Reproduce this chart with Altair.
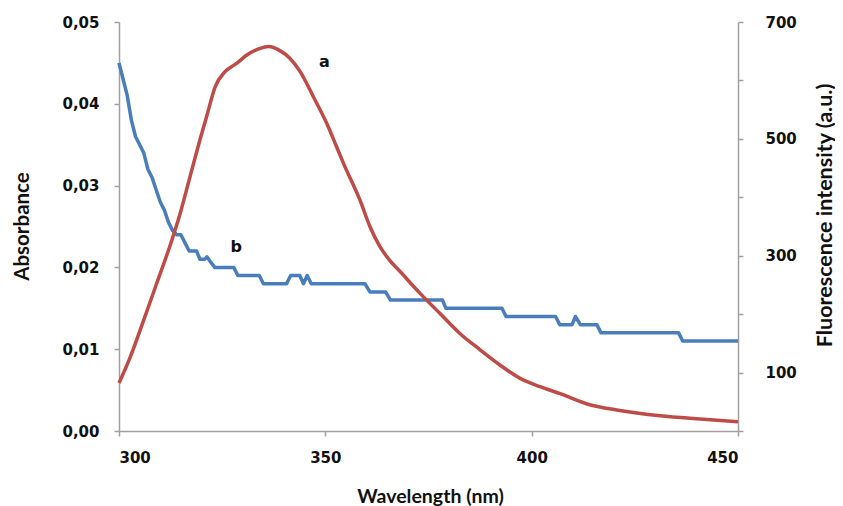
import altair as alt
import pandas as pd

# ---- data ----
blue_wl = [300, 301, 302, 303, 304, 305, 306, 307, 308, 309, 310, 311, 312, 313, 314, 315, 316, 317,
           318.8, 319.6, 320.8, 321.3, 322.0, 323.2, 327.8, 328.8, 334.0, 335.0,
           340.6, 341.6, 343.8, 344.7, 345.6, 346.6, 359.6, 360.8, 364.6, 365.8, 378.4, 379.2, 392.8, 393.8,
           405.8, 406.8, 409.8, 410.6, 411.8, 415.8, 416.8, 435.6, 436.6, 450]
blue_abs = [0.045, 0.043, 0.041, 0.038, 0.036, 0.035, 0.034, 0.032, 0.031, 0.0295, 0.028, 0.027, 0.0255, 0.0245,
            0.024, 0.024, 0.023, 0.022,
            0.022, 0.021, 0.021, 0.0213, 0.0208, 0.020, 0.020, 0.019, 0.019, 0.018,
            0.018, 0.019, 0.019, 0.018, 0.019, 0.018, 0.018, 0.017, 0.017, 0.016, 0.016, 0.015, 0.015, 0.014,
            0.014, 0.013, 0.013, 0.014, 0.013, 0.013, 0.012, 0.012, 0.011, 0.011]

red_wl = [300, 302.7, 305.9, 309.1, 312.4, 314.8, 317.2, 319.6, 321.3, 323.3, 325.7, 328.5, 330.9, 334.2,
          336.2, 339.0, 341.4, 343.9, 347.1, 350.3, 352.7, 354.4, 358.4, 360.8, 363.2, 365.6, 368.1, 372.9,
          377.8, 382.6, 387.5, 392.3, 397.2, 402.0, 406.9, 414.1, 420.6, 431.1, 440.8, 450]
red_fl = [82, 126, 188, 252, 318, 372, 435, 498, 540, 589, 615, 629, 643, 655,
          658, 651, 638, 615, 572, 527, 487, 458, 395, 350, 316, 292, 273, 236,
          201, 167, 139, 113, 90, 76, 64, 45, 36, 26, 20.5, 16]

label_a = ["a"]
label_a_wl = [349.8]
label_a_fl = [632]
label_b = ["b"]
label_b_wl = [328.4]
label_b_abs = [0.0225]

x_ticks = [300, 350, 400, 450]
left_ticks = [0.0, 0.01, 0.02, 0.03, 0.04, 0.05]
right_ticks = [0, 100, 200, 300, 400, 500, 600, 700]

BLUE = "#4a7ebb"
RED = "#be4b48"
AXIS_GREY = "#a0a0a0"
TICK_FONT = "DejaVu Sans"
TITLE_FONT = "Lato"

blue_df = pd.DataFrame({"wl": blue_wl, "val": blue_abs})
red_df = pd.DataFrame({"wl": red_wl, "val": red_fl})
a_df = pd.DataFrame({"wl": label_a_wl, "val": label_a_fl, "t": label_a})
b_df = pd.DataFrame({"wl": label_b_wl, "val": label_b_abs, "t": label_b})

common_axis = dict(grid=False, domainColor=AXIS_GREY, tickColor=AXIS_GREY, tickSize=5,
                   domainWidth=1.5, tickWidth=1.5,
                   labelFont=TICK_FONT, labelFontWeight="bold", labelFontSize=15, labelColor="#111111",
                   titleFont=TITLE_FONT, titleFontWeight="bold", titleColor="#111111",
                   titleAlign="center", titleBaseline="middle")

x_enc = alt.X("wl:Q", scale=alt.Scale(domain=[300, 450], nice=False, zero=False),
              axis=alt.Axis(values=x_ticks, title="Wavelength (nm)", labelPadding=14,
                            titleFontSize=19.5, titleX=311, titleY=65, **common_axis))

y_left = alt.Y("val:Q", scale=alt.Scale(domain=[0, 0.05], nice=False, zero=True),
               axis=alt.Axis(orient="left", values=left_ticks,
                             labelExpr="replace(format(datum.value, '.2f'), '.', ',')",
                             title="Absorbance", labelPadding=15, titleFontSize=20.5,
                             titleX=-97, titleY=204, titleAngle=270, **common_axis))

y_right = alt.Y("val:Q", scale=alt.Scale(domain=[0, 700], nice=False, zero=True),
                axis=alt.Axis(orient="right", values=right_ticks,
                              labelExpr="datum.value % 200 == 100 ? datum.label : ''",
                              title="Fluorescence intensity (a.u.)", labelPadding=22, titleFontSize=21.5,
                              titleX=87, titleY=193, titleAngle=270, **common_axis))

blue_line = alt.Chart(blue_df).mark_line(color=BLUE, strokeWidth=3.5, strokeJoin="round").encode(
    x=x_enc, y=y_left)
b_text = alt.Chart(b_df).mark_text(font=TICK_FONT, fontSize=16, fontWeight="bold", color="#111111").encode(
    x=x_enc, y=y_left, text="t:N")

red_line = alt.Chart(red_df).mark_line(color=RED, strokeWidth=3.5, strokeJoin="round",
                                       interpolate="monotone").encode(x=x_enc, y=y_right)
a_text = alt.Chart(a_df).mark_text(font=TICK_FONT, fontSize=16, fontWeight="bold", color="#111111").encode(
    x=x_enc, y=y_right, text="t:N")

chart = alt.layer(
    alt.layer(blue_line, b_text),
    alt.layer(red_line, a_text),
).resolve_scale(y="independent").properties(
    width=619, height=409,
    autosize=alt.AutoSizeParams(type="none"),
    padding={"left": 111, "top": 14, "right": 97, "bottom": 75},
    background="white",
).configure_view(stroke=None)

chart.save("out.html", embed_options={"renderer": "svg", "actions": False})
